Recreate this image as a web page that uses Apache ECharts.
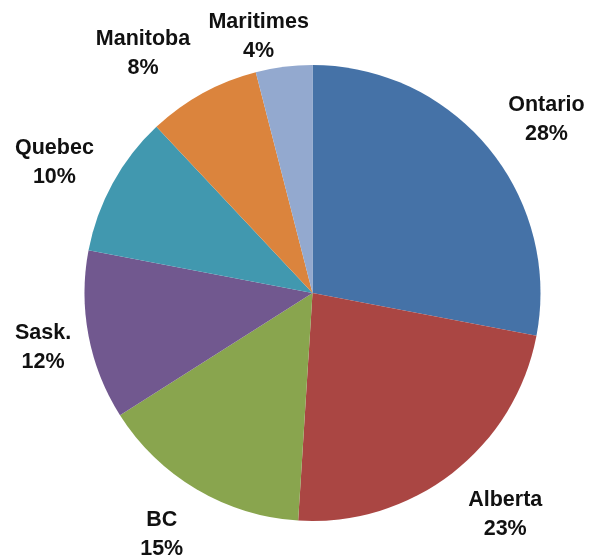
<!DOCTYPE html>
<html>
<head>
<meta charset="utf-8">
<script src="https://cdn.jsdelivr.net/npm/echarts@6/dist/echarts.min.js"></script>
<style>
  html, body { margin: 0; padding: 0; background: #fff; }
  #chart { width: 590px; height: 559px; }
</style>
</head>
<body>
<div id="chart"></div>
<script>
// slices, clockwise from 12 o'clock
const regions = ['Ontario', 'Alberta', 'BC', 'Sask.', 'Quebec', 'Manitoba', 'Maritimes']
const shares = [28, 23, 15, 12, 10, 8, 4]
const colors = ['#4572A7', '#AA4643', '#89A54E', '#71588F', '#4198AF', '#DB843D', '#93A9CF']

const cx = 312.5
const cy = 293
const radius = 228
const anchorDist = 254
const labelFont = 'bold 21.5px "Liberation Sans"'

const total = shares.reduce((a, b) => a + b, 0)
// mid angle of each slice (radians, clockwise from top)
const midAngles = []
let acc = 0
shares.forEach(v => {
  midAngles.push((acc + v / 2) / total * Math.PI * 2)
  acc += v
})

// measure label text so they can sit just outside the pie edge
const ctx = document.createElement('canvas').getContext('2d')
ctx.font = labelFont
const labelWidths = regions.map((name, i) =>
  Math.max(ctx.measureText(name).width, ctx.measureText(shares[i] + '%').width))
const labelHeight = 46

const myChart = echarts.init(document.getElementById('chart'))

myChart.setOption({
  animation: false,
  series: [
    {
      type: 'pie',
      center: [cx, cy],
      radius: radius,
      startAngle: 90,
      clockwise: true,
      avoidLabelOverlap: false,
      data: regions.map((name, i) => ({
        name: name,
        value: shares[i],
        itemStyle: { color: colors[i] }
      })),
      label: {
        show: true,
        position: 'outside',
        formatter: '{b}\n{c}%',
        fontFamily: 'Liberation Sans',
        fontWeight: 'bold',
        fontSize: 21.5,
        lineHeight: 29,
        color: '#111',
        align: 'center',
        overflow: 'none',
        width: 120
      },
      labelLine: { show: false },
      // "outside end" style: label box hangs off an anchor point just past the rim
      labelLayout: function (params) {
        const i = params.dataIndex
        const a = midAngles[i]
        const dx = Math.sin(a)
        const dy = -Math.cos(a)
        const w = labelWidths[i]
        const h = labelHeight
        const ax = cx + dx * anchorDist
        const ay = cy + dy * anchorDist
        let x = ax + Math.sign(dx) * Math.min(1, Math.abs(dx) * 3.5) * w / 2
        let y = ay + dy * h / 2 + 3
        // keep inside chart area
        x = Math.min(Math.max(x, 15 + w / 2), 586 - w / 2)
        y = Math.min(Math.max(y, 14 + h / 2), 558 - h / 2)
        return { x: x, y: y, align: 'center', verticalAlign: 'middle' }
      }
    }
  ]
})
</script>
</body>
</html>
